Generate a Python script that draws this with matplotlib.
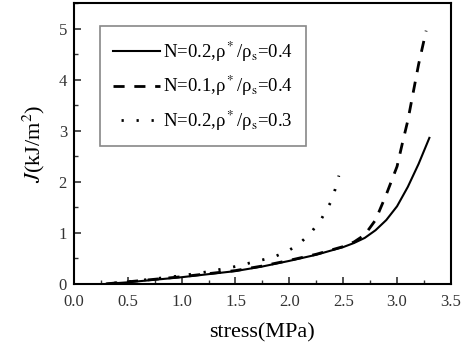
import numpy as np
import matplotlib
matplotlib.use('Agg')
import matplotlib.pyplot as plt
from matplotlib.ticker import MultipleLocator

plt.rcParams['font.family'] = ['Liberation Serif', 'DejaVu Serif']
plt.rcParams['mathtext.fontset'] = 'stix'

# N=0.2, rho*/rho_s=0.4
stress_a = [0.3, 0.5, 0.75, 1.0, 1.25, 1.5, 1.75, 2.0, 2.25, 2.5, 2.6, 2.7, 2.8, 2.9, 3.0, 3.1, 3.2, 3.3]
J_a = [0.0, 0.03, 0.08, 0.13, 0.19, 0.25, 0.34, 0.45, 0.57, 0.72, 0.8, 0.9, 1.05, 1.25, 1.52, 1.9, 2.35, 2.86]

# N=0.1, rho*/rho_s=0.4
stress_b = [0.3, 0.5, 0.75, 1.0, 1.25, 1.5, 1.75, 2.0, 2.25, 2.5, 2.6, 2.7, 2.8, 2.9, 3.0, 3.05, 3.1, 3.15, 3.2, 3.27]
J_b = [0.0, 0.04, 0.09, 0.14, 0.2, 0.26, 0.35, 0.46, 0.58, 0.73, 0.82, 0.96, 1.25, 1.75, 2.3, 2.76, 3.2, 3.75, 4.3, 4.96]

# N=0.2, rho*/rho_s=0.3
stress_c = [0.3, 0.5, 0.75, 1.0, 1.25, 1.5, 1.75, 1.85, 2.0, 2.1, 2.2, 2.3, 2.4, 2.46]
J_c = [0.0, 0.04, 0.1, 0.16, 0.24, 0.34, 0.47, 0.52, 0.66, 0.8, 1.0, 1.28, 1.66, 2.12]

fig = plt.figure(figsize=(4.62, 3.47), dpi=100)
ax = fig.add_axes([0.160, 0.182, 0.816, 0.809])
ax.set_xlim(0, 3.5)
ax.set_ylim(0, 5.5)

ax.plot(stress_a, J_a, color='black', lw=1.5, label=r'N=0.2,ρ$^*$/ρ$_\mathrm{s}$=0.4')
ax.plot(stress_b, J_b, color='black', lw=2, dashes=(4, 3.5), label=r'N=0.1,ρ$^*$/ρ$_\mathrm{s}$=0.4')

# dotted line: shift the pattern so a dot sits at the end of the curve
lw_c = 2.0
on, off = 0.8, 4.6
pts = ax.transData.transform(np.column_stack([stress_c, J_c]))
L = np.sum(np.hypot(np.diff(pts[:, 0]), np.diff(pts[:, 1]))) * 72.0 / fig.dpi
offset = (on / 2 - L / lw_c) % (on + off)
ax.plot(stress_c, J_c, color='black', lw=lw_c, linestyle=(offset, (on, off)), label=r'N=0.2,ρ$^*$/ρ$_\mathrm{s}$=0.3')

ax.xaxis.set_major_locator(MultipleLocator(0.5))
ax.xaxis.set_minor_locator(MultipleLocator(0.25))
ax.yaxis.set_major_locator(MultipleLocator(1))
ax.yaxis.set_minor_locator(MultipleLocator(0.5))
ax.xaxis.set_major_formatter(matplotlib.ticker.FormatStrFormatter('%.1f'))
ax.tick_params(which='both', direction='in', labelsize=12, colors='#333333')
ax.tick_params(which='major', length=5, width=1.2)
ax.tick_params(which='minor', length=3, width=1.0)
ax.tick_params(axis='x', pad=7)
ax.tick_params(axis='y', pad=5)
for s in ax.spines.values():
	s.set_linewidth(1.5)

ax.set_xlabel('stress(MPa)', fontsize=16, labelpad=10)
ax.set_ylabel(r'$J$(kJ/m$^2$)', fontsize=16, labelpad=8)

leg = ax.legend(loc='upper left', bbox_to_anchor=(0.069, 0.918), borderaxespad=0, fontsize=13.5, handlelength=2.5,
	handletextpad=0.15, fancybox=False, framealpha=1, edgecolor='#888888', borderpad=0.7, labelspacing=0.55)
leg.get_frame().set_linewidth(1.2)

plt.savefig('out.png', dpi=100)
plt.close()
